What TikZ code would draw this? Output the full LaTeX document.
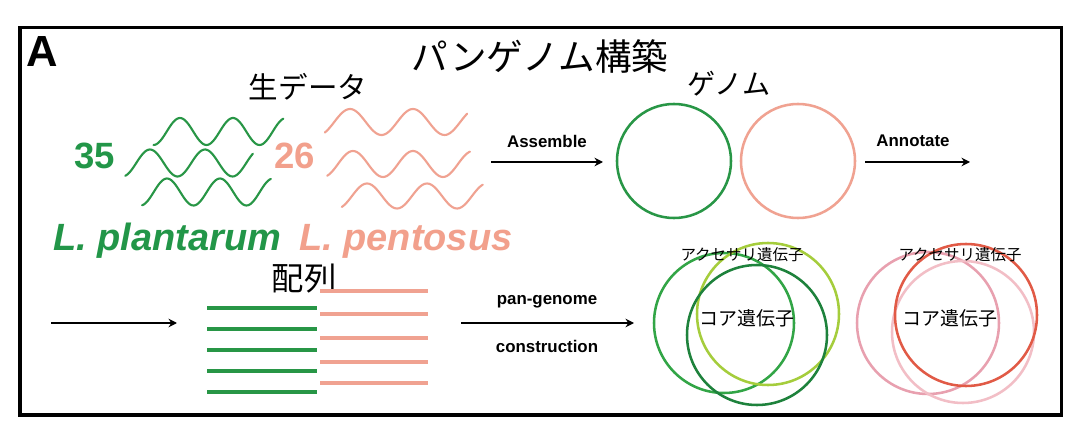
\documentclass[tikz,border=0pt]{standalone}
\usepackage{fontspec}
\newfontfamily\jp{Noto Sans CJK JP}
\newfontfamily\hv{Liberation Sans}
\usetikzlibrary{arrows.meta}
\definecolor{gtext}{RGB}{34,150,72}
\definecolor{stext}{RGB}{242,160,140}
\definecolor{gwave}{RGB}{40,150,70}
\definecolor{swave}{RGB}{240,162,145}
\definecolor{vA}{RGB}{50,165,70}
\definecolor{vB}{RGB}{165,205,60}
\definecolor{vC}{RGB}{30,130,60}
\definecolor{pA}{RGB}{232,160,175}
\definecolor{pB}{RGB}{242,190,198}
\definecolor{pC}{RGB}{225,90,70}
\tikzset{
  wave/.style={line width=1.5pt, line cap=round},
  ring/.style={line width=1.8pt},
  seqline/.style={line width=2.2pt},
  arr/.style={line width=1.4pt, -{Stealth[length=6pt,width=6pt]}},
  jptext/.style={font=\jp, inner sep=0pt},
  lbl/.style={font=\hv\bfseries\fontsize{12}{14}\selectfont, inner sep=0pt},
  big/.style={font=\hv\bfseries\itshape\fontsize{27}{30}\selectfont, inner sep=0pt, anchor=base west},
  num/.style={font=\hv\bfseries\fontsize{26}{28}\selectfont, inner sep=0pt}
}
\begin{document}
\begin{tikzpicture}[x=0.025cm,y=-0.025cm]
\useasboundingbox (0,0) rectangle (1081,439);
\fill[white] (0,0) rectangle (1081,439);
\draw[line width=2.5pt] (20,27.5) rectangle (1061.5,415);
% texts
\node[font=\hv\bfseries\fontsize{31}{33}\selectfont, inner sep=0pt] (A) at (42,52) {A};
\node[jptext, font=\jp\fontsize{26}{28}\selectfont] (title) at (540,56) {パンゲノム構築};
\node[jptext, font=\jp\fontsize{21}{23}\selectfont] (raw) at (308,87) {生データ};
\node[jptext, font=\jp\fontsize{20}{22}\selectfont] (genome) at (729,84) {ゲノム};
\node[num, text=gtext] (n35) at (95,156) {35};
\node[num, text=stext] (n26) at (295,156) {26};
\node[big, text=gtext] (plant) at (53,251) {L. plantarum};
\node[big, text=stext] (pento) at (299,251) {L. pentosus};
\node[jptext, font=\jp\fontsize{23}{25}\selectfont] (seq) at (304,279) {配列};
% waves green
\draw[wave, gwave] plot[domain=-0.5:1.95, samples=90, variable=\t] ({180+53*\t},{131.5-13.5*cos(360*\t)});
\draw[wave, gwave] plot[domain=-0.45:1.87, samples=90, variable=\t] ({150+55*\t},{163-13.5*cos(360*\t)});
\draw[wave, gwave] plot[domain=-0.47:1.96, samples=90, variable=\t] ({167+53*\t},{192-13.5*cos(360*\t)});
% waves salmon
\draw[wave, swave] plot[domain=-0.4:1.86, samples=90, variable=\t] ({350+63*\t},{122-13*cos(360*\t)});
\draw[wave, swave] plot[domain=-0.43:1.95, samples=90, variable=\t] ({353+60*\t},{164-13*cos(360*\t)});
\draw[wave, swave] plot[domain=-0.42:1.93, samples=90, variable=\t] ({367+60*\t},{196-12.5*cos(360*\t)});
% Assemble arrow
\coordinate (a1s) at (491,162);
\coordinate (a1e) at (603,162);
\draw[arr] (a1s) -- (a1e);
\node[lbl] (asm) at (547,141) {Assemble};
% genome circles
\node[ring, draw=gwave, circle, minimum size=2.85cm, inner sep=0pt] (g1) at (674,161) {};
\node[ring, draw=swave, circle, minimum size=2.85cm, inner sep=0pt] (g2) at (798,161) {};
% Annotate arrow
\coordinate (a2s) at (865,162);
\coordinate (a2e) at (970,162);
\draw[arr] (a2s) -- (a2e);
\node[lbl] (ann) at (913,141) {Annotate};
% bottom-left arrow
\coordinate (a3s) at (51,323);
\coordinate (a3e) at (177,323);
\draw[arr] (a3s) -- (a3e);
% sequence lines
\foreach \yy in {308,329,350,371,392} \draw[seqline, gwave] (207,\yy) -- (317,\yy);
\foreach \yy in {291,314,338,362,383} \draw[seqline, swave] (320,\yy) -- (428,\yy);
% pan-genome arrow
\coordinate (a4s) at (461,323);
\coordinate (a4e) at (634,323);
\draw[arr] (a4s) -- (a4e);
\node[lbl] (pg1) at (547,302) {pan-genome};
\node[lbl] (pg2) at (547,346) {construction};
% Venn green
\draw[ring, vA] (724,323) circle (70);
\draw[ring, vB] (768,314) circle (71);
\draw[ring, vC] (757,335) circle (70);
\node[jptext, font=\jp\fontsize{11}{12}\selectfont] (acc1) at (742,255) {アクセサリ遺伝子};
\node[jptext, font=\jp\fontsize{13.5}{15}\selectfont] (core1) at (747,318) {コア遺伝子};
% Venn pink
\draw[ring, pA] (928,323) circle (71);
\draw[ring, pB] (963,332) circle (71);
\draw[ring, pC] (966,315) circle (71);
\node[jptext, font=\jp\fontsize{11}{12}\selectfont] (acc2) at (960,255) {アクセサリ遺伝子};
\node[jptext, font=\jp\fontsize{13.5}{15}\selectfont] (core2) at (950,318) {コア遺伝子};
\end{tikzpicture}
\end{document}
